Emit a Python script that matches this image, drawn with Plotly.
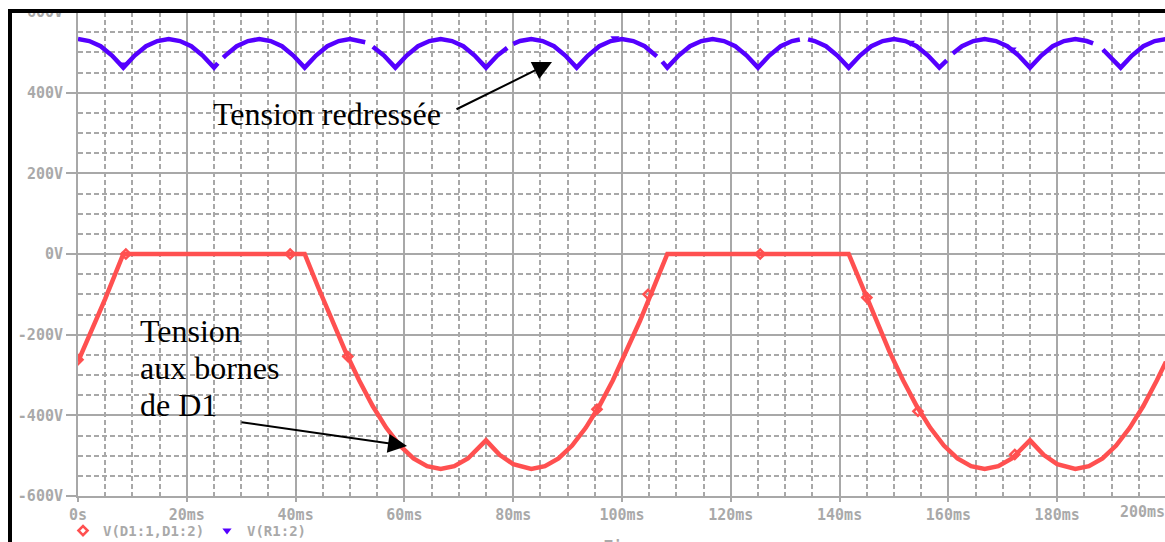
import plotly.graph_objects as go

# ---------------- data ----------------
# Rectified voltage V(R1:2): time in ms, value in V (None = break in the trace)
blue_t = [0, 2.08, 4.17, 6.25, 8.33, 10.42, 12.5, 14.58, 16.67, 18.75, 20.83, 22.92, 25,
          25.7, None, 26.7, 27.08, 29.17, 31.25, 33.33, 35.42, 37.5, 39.58, 41.67, 43.75,
          45.83, 47.92, 50, 52.08, 52.8, None, 54.2, 56.25, 58.33, 60.42, 62.5, 64.58,
          66.67, 68.75, 70.83, 72.92, 75, 77.08, 78.9, None, 80, 81.25, 83.33, 85.42,
          87.5, 89.58, 91.67, 93.75, 95.83, 97.92, 100, 102.08, 104.17, 106.4, None,
          107.4, 108.33, 110.42, 112.5, 114.58, 116.67, 118.75, 120.83, 122.92, 125,
          127.08, 129.17, 131.25, 132.7, None, 134.2, 135.42, 137.5, 139.58, 141.67,
          143.75, 145.83, 147.92, 150, 152.08, 154.17, 156.25, 158.33, 159.7, None,
          160.8, 162.5, 164.58, 166.67, 168.75, 170.83, 172.92, 175, 177.08, 179.17,
          181.25, 183.33, 185.42, 186.6, None, 188.4, 189.58, 191.67, 193.75, 195.83,
          197.92, 200]
blue_v = [533, 528, 515, 492, 462, 492, 515, 528, 533, 528, 515, 492, 462,
          473, None, 487, 492, 515, 528, 533, 528, 515, 492, 462, 492,
          515, 528, 533, 528, 525, None, 514, 492, 462, 492, 515, 528,
          533, 528, 515, 492, 462, 492, 511, None, 521, 528, 533, 528,
          515, 492, 462, 492, 515, 528, 533, 528, 515, 490, None,
          477, 462, 492, 515, 528, 533, 528, 515, 492, 462,
          492, 515, 528, 532, None, 532, 528, 515, 492, 462,
          492, 515, 528, 533, 528, 515, 492, 462, 480, None,
          497, 515, 528, 533, 528, 515, 492, 462, 492, 515,
          528, 533, 528, 522, None, 507, 492, 462, 492, 515,
          528, 533]

# Voltage across diode D1, V(D1:1,D1:2)
red_t = [0, 2.5, 5, 8.33, 41.67, 44.17, 46.67, 49.17, 51.67, 54.17, 56.67, 59.17, 61.67,
         64.17, 66.67, 69.17, 71.67, 75, 77.5, 80, 83.33, 85.83, 88.33, 90.83, 93.33,
         95.83, 98.33, 100.83, 103.33, 105.83, 108.33, 141.67, 144.17, 146.67, 149.17,
         151.67, 154.17, 156.67, 159.17, 161.67, 164.17, 166.67, 169.17, 171.67, 175,
         177.5, 180, 183.33, 185.83, 188.33, 190.83, 193.33, 195.83, 198.33, 200]
red_v = [-267, -191, -111, 0, 0, -83, -165, -242, -313, -377, -431, -475, -507,
         -526, -533, -526, -507, -462, -498, -521, -533, -526, -507, -475, -431,
         -377, -313, -242, -165, -83, 0, 0, -83, -165, -242,
         -313, -377, -431, -475, -507, -526, -533, -526, -507, -462,
         -498, -521, -533, -526, -507, -475, -431, -377, -313, -267]

# PSpice trace markers
red_mark_t = [0, 8.8, 39, 49.6, 95.4, 104.8, 125.4, 145, 154.4, 172.2]
red_mark_v = [-262, 0, 0, -254, -385, -100, 0, -108, -390, -497]
blue_mark_t = [8.6, 98.7, 153, 171.7]
blue_mark_v = [470, 535, 524, 507]

# axis ticks
x_tickvals = [0, 20, 40, 60, 80, 100, 120, 140, 160, 180]
x_ticktext = ["0s", "20ms", "40ms", "60ms", "80ms", "100ms", "120ms", "140ms", "160ms", "180ms"]
y_tickvals = [600, 400, 200, 0, -200, -400, -600]
y_ticktext = ["600V", "400V", "200V", "0V", "-200V", "-400V", "-600V"]

series_names = ["V(D1:1,D1:2)", "V(R1:2)"]

# ---------------- style ----------------
RED = "#ff5050"
BLUE = "#5500ff"
GRID = "#a8a8a8"
LABEL = "#a9a9a9"
W, H = 1165, 542
L, R, T, B = 78, 0, 12, 46
PX_PER_MS = 5.44
X_MAX = (W - L - R) / PX_PER_MS

def pxx(xp):
    return (xp - L) / (W - L - R)

def pyy(yp):
    return (H - B - yp) / (H - T - B)

mono = dict(family="DejaVu Sans Mono", size=15, color=LABEL, weight="bold")
legend_font = dict(family="DejaVu Sans Mono", size=14, color=LABEL, weight="bold")
serif = dict(family="Liberation Serif", size=32, color="black")

fig = go.Figure()
fig.add_trace(go.Scatter(x=red_t, y=red_v, mode="lines", line=dict(color=RED, width=4.5),
                         showlegend=False, connectgaps=False))
fig.add_trace(go.Scatter(x=blue_t, y=blue_v, mode="lines", line=dict(color=BLUE, width=4.5),
                         showlegend=False, connectgaps=False))
fig.add_trace(go.Scatter(x=red_mark_t, y=red_mark_v, mode="markers",
                         marker=dict(symbol="diamond-open", color=RED, size=7, line=dict(width=2.5)),
                         name=series_names[0], showlegend=True))
fig.add_trace(go.Scatter(x=blue_mark_t, y=blue_mark_v, mode="markers",
                         marker=dict(symbol="triangle-down", color=BLUE, size=8),
                         name=series_names[1], showlegend=True))

fig.update_layout(
    width=W, height=H,
    margin=dict(l=L, r=R, t=T, b=B, pad=0, autoexpand=False),
    paper_bgcolor="white", plot_bgcolor="white",
    showlegend=True,
    legend=dict(orientation="h", x=pxx(63), y=pyy(531), xanchor="left", yanchor="middle",
                font=legend_font, bgcolor="rgba(0,0,0,0)", itemwidth=30,
                entrywidth=99, entrywidthmode="pixels", tracegroupgap=0),
)

fig.update_xaxes(
    range=[0, X_MAX], tickmode="array", tickvals=x_tickvals, ticktext=x_ticktext,
    tickfont=mono, showgrid=True, gridcolor=GRID, gridwidth=2, automargin=False,
    ticks="outside", ticklen=4, tickwidth=2, tickcolor=GRID,
    showline=True, linecolor=GRID, linewidth=2, zeroline=False,
    minor=dict(tickmode="linear", tick0=0, dtick=5, showgrid=True, gridcolor=GRID,
               gridwidth=2, griddash="5px,3px", ticks=""),
)
fig.update_yaxes(
    range=[-600, 600], tickmode="array", tickvals=y_tickvals, ticktext=y_ticktext,
    tickfont=mono, showgrid=True, gridcolor=GRID, gridwidth=2, automargin=False,
    ticks="outside", ticklen=10, tickwidth=2, tickcolor=GRID,
    showline=True, linecolor=GRID, linewidth=2, zeroline=False,
    minor=dict(tickmode="linear", tick0=0, dtick=50, showgrid=True, gridcolor=GRID,
               gridwidth=2, griddash="5px,3px", ticks=""),
)

# text annotations
fig.add_annotation(x=pxx(211), y=pyy(114), xref="paper", yref="paper", xanchor="left",
                   yanchor="middle", text="Tension redressée", showarrow=False, font=serif)
for txt, yc in [("Tension", 331), ("aux bornes", 368), ("de D1", 405)]:
    fig.add_annotation(x=pxx(138), y=pyy(yc), xref="paper", yref="paper", xanchor="left",
                       yanchor="middle", text=txt, showarrow=False, font=serif)

# arrows (tail given as pixel offset from the tip)
fig.add_annotation(x=pxx(552), y=pyy(62), ax=455 - 552, ay=110 - 62, xref="paper", yref="paper",
                   axref="pixel", ayref="pixel", text="", showarrow=True, arrowhead=2,
                   arrowsize=1.9, arrowwidth=2, arrowcolor="black")
fig.add_annotation(x=pxx(407), y=pyy(446), ax=240 - 407, ay=422 - 446, xref="paper", yref="paper",
                   axref="pixel", ayref="pixel", text="", showarrow=True, arrowhead=2,
                   arrowsize=1.9, arrowwidth=2, arrowcolor="black")

# last x tick label (shifted inside the window) and the clipped axis title
fig.add_annotation(x=pxx(1142), y=pyy(512), xref="paper", yref="paper", text="200ms",
                   showarrow=False, font=mono, xanchor="center", yanchor="middle")
fig.add_annotation(x=0.5, y=pyy(536), xref="paper", yref="paper", text="Time",
                   showarrow=False, font=mono, xanchor="center", yanchor="top")

# screenshot frame: white strip on top, black bars on top and left
fig.add_shape(type="rect", xref="paper", yref="paper", x0=pxx(0), x1=pxx(W + 5),
              y0=pyy(9), y1=pyy(-5), fillcolor="white", line_width=0, layer="above")
fig.add_shape(type="rect", xref="paper", yref="paper", x0=pxx(8), x1=pxx(W + 5),
              y0=pyy(13), y1=pyy(9), fillcolor="black", line_width=0, layer="above")
fig.add_shape(type="rect", xref="paper", yref="paper", x0=pxx(8), x1=pxx(12),
              y0=pyy(H + 5), y1=pyy(9), fillcolor="black", line_width=0, layer="above")

fig.write_html("out.html", config={"displayModeBar": False},
               post_script="document.body.style.margin='0';document.body.style.overflow='hidden';")
